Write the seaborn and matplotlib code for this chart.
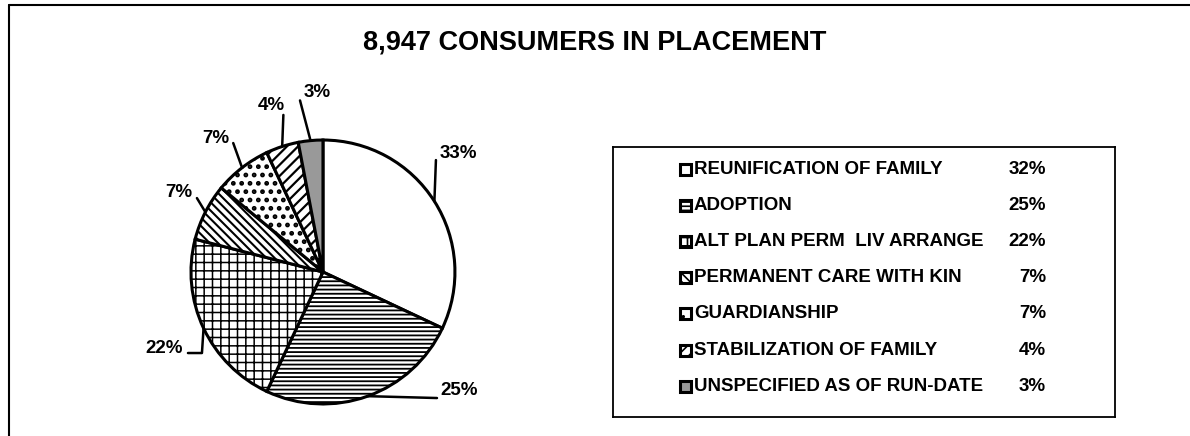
import matplotlib
matplotlib.use('Agg')
import numpy as np
import matplotlib.pyplot as plt
import seaborn as sns
from matplotlib.lines import Line2D
from matplotlib.patches import Rectangle

categories = ['REUNIFICATION OF FAMILY', 'ADOPTION', 'ALT PLAN PERM  LIV ARRANGE',
              'PERMANENT CARE WITH KIN', 'GUARDIANSHIP', 'STABILIZATION OF FAMILY',
              'UNSPECIFIED AS OF RUN-DATE']
shares = [32, 25, 22, 7, 7, 4, 3]            # legend percentages (wedge sizes)
pie_labels = ['33%', '25%', '22%', '7%', '7%', '4%', '3%']
title = '8,947 CONSUMERS IN PLACEMENT'

sns.set_theme(style='white')
plt.rcParams['font.family'] = ['Liberation Sans', 'DejaVu Sans']
plt.rcParams['text.color'] = 'black'
plt.rcParams['hatch.linewidth'] = 1.2

hatches = ['', '----', '++', '\\\\\\\\', '..', '///', '']
hatch_lw = [1.2, 1.3, 1.1, 1.5, 2.2, 1.6, 1.2]
fills = ['white', 'white', 'white', 'white', 'white', 'white', '#999999']

fig = plt.figure(figsize=(11.9, 4.36), dpi=100)

# outer frame (left and top edges)
fig.add_artist(Line2D([9 / 1190, 9 / 1190], [0, 1 - 5 / 436], color='black', lw=1.5))
fig.add_artist(Line2D([9 / 1190, 1], [1 - 5 / 436, 1 - 5 / 436], color='black', lw=1.5))

fig.text(0.5, 1 - 42 / 436, title, ha='center', va='center',
         fontsize=19.5, fontweight='bold')

# pie
ax = fig.add_axes([0.1605, 0.0734, 0.2218, 0.6055])
wedges, _ = ax.pie(shares, startangle=90, counterclock=False, colors=fills,
                   wedgeprops=dict(edgecolor='black', linewidth=2.2))
for w, h, hl in zip(wedges, hatches, hatch_lw):
    w.set_hatch(h)
    if hasattr(w, 'set_hatch_linewidth'):
        w.set_hatch_linewidth(hl)
ax.set_xlim(-1, 1)
ax.set_ylim(-1, 1)
ax.set_aspect('equal')
ax.axis('off')

# leader lines: from wedge midpoint on rim to a bend / end point, then label
leader_pts = [[(0.856, 0.848)],
              [(0.864, -0.955)],
              [(-0.917, -0.614), (-1.023, -0.614)],
              [(-0.955, 0.56)],
              [(-0.68, 0.977)],
              [(-0.30, 1.19)],
              [(-0.174, 1.30)]]
label_pos = [(0.886, 0.90, 'left'), (0.886, -0.90, 'left'), (-1.06, -0.576, 'right'),
             (-0.99, 0.60, 'right'), (-0.814, 1.015, 'center'), (-0.394, 1.265, 'center'),
             (-0.045, 1.36, 'center')]
cum = np.cumsum([0] + shares[:-1])
for i, lab in enumerate(pie_labels):
    mid = np.deg2rad(90 - (cum[i] + shares[i] / 2) * 3.6)
    xs = [np.cos(mid)] + [p[0] for p in leader_pts[i]]
    ys = [np.sin(mid)] + [p[1] for p in leader_pts[i]]
    ax.plot(xs, ys, color='black', lw=1.8, clip_on=False)
    lx, ly, ha = label_pos[i]
    ax.text(lx, ly, lab, ha=ha, va='center', fontsize=13.5, fontweight='bold')

# legend box
lax = fig.add_axes([613 / 1190, 19 / 436, 502 / 1190, 270 / 436])
lax.set_xlim(0, 502)
lax.set_ylim(270, 0)
lax.set_xticks([])
lax.set_yticks([])
for s in lax.spines.values():
    s.set_color('black')
    s.set_linewidth(1.3)
for i, (cat, pct) in enumerate(zip(categories, shares)):
    y = 22 + i * 36.2
    lax.add_patch(Rectangle((67, y - 5.5), 11, 11, facecolor=fills[i],
                            edgecolor='black', lw=2.2, hatch=hatches[i]))
    lax.text(81, y, cat, ha='left', va='center', fontsize=13.5, fontweight='bold')
    lax.text(433, y, f'{pct}%', ha='right', va='center', fontsize=13.5, fontweight='bold')

fig.savefig('out.png', dpi=100)
